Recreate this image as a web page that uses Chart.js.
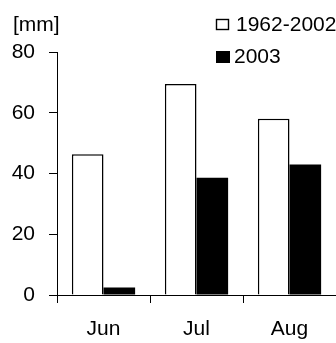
<!DOCTYPE html>
<html>
<head>
<meta charset="utf-8">
<script src="https://cdn.jsdelivr.net/npm/chart.js@4"></script>
<style>
  body { margin: 0; background: #fff; }
  #wrap { width: 336px; height: 343px; }
</style>
</head>
<body>
<div id="wrap"><canvas id="precip" width="336" height="343"></canvas></div>
<script>
const months = ['Jun', 'Jul', 'Aug']
const labelsSeries = ['1962-2002', '2003']
const mean6202 = [46.3, 69.5, 58]
const year2003 = [2.5, 38.6, 43]
const yTicks = [0, 20, 40, 60, 80]
const unit = '[mm]'

const FONT = { family: '"Liberation Sans", Arial, sans-serif', size: 21 }

// legend + unit label drawn by hand, the built-in legend can't stack like this
const extras = {
  id: 'extras',
  afterDraw(chart) {
    const c = chart.ctx
    c.save()
    c.font = '21px "Liberation Sans", Arial, sans-serif'
    c.fillStyle = '#000'
    c.textBaseline = 'middle'
    c.textAlign = 'left'
    c.fillText(unit, 13, 25)

    const ds = chart.data.datasets
    // white box
    c.fillStyle = '#fff'
    c.fillRect(216, 19, 13, 11)
    c.strokeStyle = '#000'
    c.lineWidth = 1.4
    c.strokeRect(216.5, 19.5, 12, 10)
    c.fillStyle = '#000'
    c.fillText(ds[0].label, 236, 25.5)
    // black box
    c.fillRect(216, 51, 14, 12)
    c.fillText(ds[1].label, 234, 57.5)
    c.restore()
  }
}

new Chart(document.getElementById('precip'), {
  type: 'bar',
  data: {
    labels: months,
    datasets: [{
      label: labelsSeries[0],
      data: mean6202,
      backgroundColor: '#fff',
      borderColor: '#000',
      borderWidth: 1.5,
      categoryPercentage: 0.68,
      barPercentage: 1
    }, {
      label: labelsSeries[1],
      data: year2003,
      backgroundColor: '#000',
      borderColor: '#000',
      borderWidth: 0,
      categoryPercentage: 0.68,
      barPercentage: 1
    }]
  },
  options: {
    responsive: false,
    animation: false,
    events: [],
    layout: { padding: { top: 52, left: 0, right: 0, bottom: 0 } },
    plugins: { legend: { display: false }, tooltip: { enabled: false } },
    scales: {
      x: {
        offset: true,
        afterFit(s) { s.height = 48 },
        grid: { offset: true, drawOnChartArea: false, tickLength: 8, color: '#000', lineWidth: 1 },
        border: { display: true, color: '#000', width: 1 },
        ticks: { color: '#000', font: FONT, padding: 14 }
      },
      y: {
        min: 0,
        max: 80,
        afterFit(s) { s.width = 57 },
        afterBuildTicks(s) { s.ticks = yTicks.map(v => ({ value: v })) },
        grid: { drawOnChartArea: false, tickLength: 8, color: '#000', lineWidth: 1 },
        border: { display: true, color: '#000', width: 1 },
        ticks: { color: '#000', font: FONT, padding: 14 }
      }
    }
  },
  plugins: [extras]
})
</script>
</body>
</html>
